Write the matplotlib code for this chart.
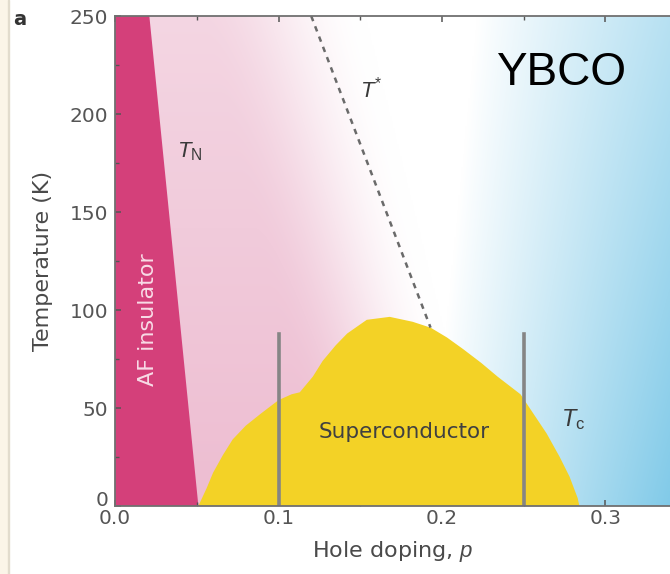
import numpy as np
import matplotlib
matplotlib.use('Agg')
import matplotlib.pyplot as plt
from matplotlib.patches import Rectangle

plt.rcParams['font.family'] = ['DejaVu Sans']
plt.rcParams['mathtext.fontset'] = 'custom'
plt.rcParams['mathtext.it'] = 'Liberation Sans:italic'
plt.rcParams['mathtext.rm'] = 'Liberation Sans'

# superconducting dome T_c(p)
dome_p = [0.051, 0.056, 0.060, 0.066, 0.072, 0.080, 0.089, 0.100, 0.108, 0.113,
          0.121, 0.127, 0.135, 0.142, 0.154, 0.168, 0.182, 0.193, 0.203, 0.213,
          0.224, 0.234, 0.248, 0.256, 0.264, 0.272, 0.278, 0.283, 0.284]
dome_T = [0, 9, 17, 26, 34, 41, 47, 54, 57, 58,
          66, 74, 82, 88, 95, 96.5, 94, 91, 86, 80,
          73, 66, 57, 47, 37, 25, 15, 4, 0]

# Neel line (edge of AF insulator) and pseudogap line T*
tn_p = [0.021, 0.051]
tn_T = [250, 0]
tstar_p = [0.120, 0.193]
tstar_T = [250, 91]

# grey vertical markers
marker_p = [0.10, 0.25]
marker_top = 88

xticks = [0.0, 0.1, 0.2, 0.3]
xlabels = ['0.0', '0.1', '0.2', '0.3']
yticks = [0, 50, 100, 150, 200, 250]

pmax = 555 / 1635.0


def smooth(s):
    s = np.clip(s, 0, 1)
    return s * s * (3 - 2 * s)


fig = plt.figure(figsize=(6.7, 5.74), dpi=100)
fig.patches.append(Rectangle((0, 0), 8 / 670, 1, transform=fig.transFigure,
                             color='#fbf5e8', zorder=0))
fig.patches.append(Rectangle((8 / 670, 0), 1.2 / 670, 1, transform=fig.transFigure,
                             color='#e2dccd', zorder=0))
ax = fig.add_axes([115 / 670, 68 / 574, 555 / 670, 490 / 574])

# background shading: pink (underdoped) -> white -> blue (overdoped)
pp, TT = np.meshgrid(np.linspace(0, pmax, 400), np.linspace(0, 250, 300))
pink = np.array([0.93, 0.74, 0.82])
blue = np.array([0.50, 0.79, 0.91])
p_edge = 0.228 - 0.00030 * TT
w_p = smooth((p_edge - pp) / 0.10) * (1 - 0.38 * TT / 250)
b_start = 0.192 + 0.00012 * TT
w_b = np.clip((pp - b_start) / 0.15, 0, 1) ** 0.9 * (1 - 0.30 * TT / 250)
img = np.ones(pp.shape + (3,))
img = img * (1 - w_p - w_b)[..., None] + pink * w_p[..., None] + blue * w_b[..., None]
ax.imshow(np.clip(img, 0, 1), extent=[0, pmax, 0, 250], origin='lower',
          aspect='auto', interpolation='bilinear', zorder=0)

# AF insulator
ax.fill([0, tn_p[0], tn_p[1], 0], [tn_T[0], tn_T[0], tn_T[1], tn_T[1]],
        color='#d4407a', lw=0, zorder=1)

# superconducting dome
ax.fill(dome_p, dome_T, color='#f3d226', lw=0, zorder=2)

# T* dashed line
ax.plot(tstar_p, tstar_T, ls=(0, (2.2, 2.2)), color='#6a6a6a', lw=1.8, zorder=3)

for mp in marker_p:
    ax.plot([mp, mp], [0, marker_top], color='#858585', lw=2.6, zorder=3)

ax.text(0.020, 95, 'AF insulator', rotation=90, color='#f8dbe6', fontsize=16,
        ha='center', va='center', zorder=4)
ax.text(0.046, 181, r'$T_{\rm N}$', fontsize=16, color='#3a3a3a',
        ha='center', va='center', zorder=4)
ax.text(0.157, 213, r'$T^{*}$', fontsize=16, color='#3a3a3a',
        ha='center', va='center', zorder=4)
ax.text(0.280, 44, r'$T_{\rm c}$', fontsize=17, color='#3a3a3a',
        ha='center', va='center', zorder=4)
ax.text(0.177, 38, 'Superconductor', fontsize=15.5, color='#404040',
        ha='center', va='center', zorder=4)
ax.text(0.273, 221, 'YBCO', fontsize=33, color='black', family='Liberation Sans',
        ha='center', va='center', zorder=4)

fig.text(0.030, 0.966, 'a', fontsize=14, weight='bold', color='#333333',
         ha='center', va='center')

ax.set_xlim(0, pmax)
ax.set_ylim(0, 250)
ax.set_xticks(xticks)
ax.set_xticklabels(xlabels)
ax.set_yticks(yticks)
ax.set_xticks(np.arange(0.05, 0.34, 0.1), minor=True)
ax.set_yticks(np.arange(25, 250, 50), minor=True)
ax.tick_params(which='both', direction='in', top=True, right=False,
               color='#555555', labelcolor='#555555', labelsize=14.5)
ax.tick_params(which='major', length=4, width=1.1)
ax.tick_params(which='minor', length=3, width=1)
ax.tick_params(axis='y', pad=5)
ax.tick_params(axis='x', pad=2)
ax.get_yticklabels()[0].set_verticalalignment('baseline')

for side in ['left', 'bottom', 'top']:
    ax.spines[side].set_color('#707070')
    ax.spines[side].set_linewidth(1.3)
    ax.spines[side].set_zorder(5)
ax.spines['right'].set_visible(False)

ax.set_xlabel(r'Hole doping, $p$', fontsize=16, color='#4a4a4a', labelpad=8)
ax.set_ylabel('Temperature (K)', fontsize=16, color='#4a4a4a', labelpad=12)

fig.savefig('out.png', dpi=100)
